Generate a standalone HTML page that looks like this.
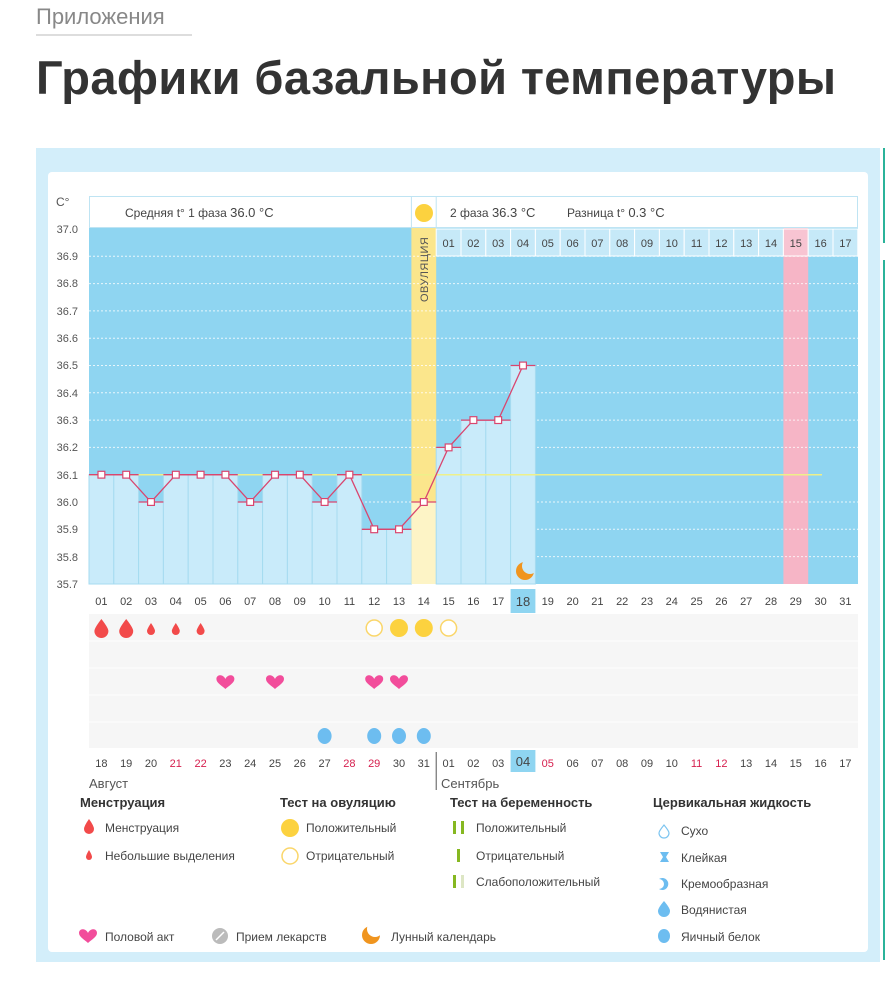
<!DOCTYPE html>
<html><head><meta charset="utf-8">
<style>
body{margin:0;width:885px;height:1000px;background:#fff;font-family:"Liberation Sans","DejaVu Sans",sans-serif;overflow:hidden;position:relative}
.crumb{position:absolute;left:36px;top:4px;font-size:22px;color:#888;border-bottom:2px solid #ddd;padding-bottom:4px;width:156px}
h1{position:absolute;left:36px;top:50px;margin:0;font-size:47px;font-weight:bold;color:#333;letter-spacing:0.4px;white-space:nowrap}
svg{position:absolute;left:0;top:0}
</style></head><body>
<div class="crumb">Приложения</div>
<h1>Графики базальной температуры</h1>
<svg width="885" height="1000" font-family="Liberation Sans, DejaVu Sans, sans-serif">
<defs>
<mask id="moon"><rect x="0" y="0" width="885" height="1000" fill="#fff"/><circle cx="530" cy="566" r="8" fill="#000"/><circle cx="375" cy="929" r="8" fill="#000"/></mask>
<path id="heart" d="M0 4 C-2 -1 -9 -1 -9 4 C-9 8 -3 11 0 14 C3 11 9 8 9 4 C9 -1 2 -1 0 4z"/>
</defs>
<rect x="36" y="148" width="844" height="814" fill="#d3eefa"/>
<rect x="883" y="148" width="2" height="95" fill="#2bb39a"/>
<rect x="883" y="260" width="2" height="700" fill="#2bb39a"/>
<rect x="48" y="172" width="820" height="780" rx="4" fill="#fff"/>
<text x="56" y="206" font-size="12" fill="#555">C°</text>
<rect x="89.5" y="196.5" width="768" height="31" fill="#fff" stroke="#bfe4f3"/>
<line x1="411.4" y1="196" x2="411.4" y2="228" stroke="#bfe4f3"/>
<line x1="436.2" y1="196" x2="436.2" y2="228" stroke="#bfe4f3"/>
<circle cx="424" cy="213" r="9" fill="#fcd23f"/>
<text x="125" y="217" font-size="12" fill="#444">Средняя t° 1 фаза <tspan font-size="13">36.0 °C</tspan></text>
<text x="450" y="217" font-size="12" fill="#444">2 фаза <tspan font-size="13">36.3 °C</tspan></text>
<text x="567" y="217" font-size="12" fill="#444">Разница t° <tspan font-size="13">0.3 °C</tspan></text>
<rect x="89" y="228" width="769" height="356" fill="#8fd5f1"/>
<rect x="411.4" y="228" width="24.8" height="356" fill="#fbe68c"/>
<rect x="783.4" y="228" width="24.8" height="356" fill="#f6b5c6"/>
<g stroke="#fff" stroke-dasharray="2 2" opacity="0.8">
<line x1="89" y1="256.3" x2="858" y2="256.3"/><line x1="89" y1="283.6" x2="858" y2="283.6"/><line x1="89" y1="310.9" x2="858" y2="310.9"/><line x1="89" y1="338.2" x2="858" y2="338.2"/><line x1="89" y1="365.5" x2="858" y2="365.5"/><line x1="89" y1="392.8" x2="858" y2="392.8"/><line x1="89" y1="420.1" x2="858" y2="420.1"/><line x1="89" y1="447.4" x2="858" y2="447.4"/><line x1="89" y1="502" x2="858" y2="502"/><line x1="89" y1="529.3" x2="858" y2="529.3"/><line x1="89" y1="556.6" x2="858" y2="556.6"/>
</g>
<g fill="#c6e9f8" stroke="#fff">
<rect x="436.2" y="229" width="24.8" height="27"/><rect x="461" y="229" width="24.8" height="27"/><rect x="485.8" y="229" width="24.8" height="27"/><rect x="510.6" y="229" width="24.8" height="27"/><rect x="535.4" y="229" width="24.8" height="27"/><rect x="560.2" y="229" width="24.8" height="27"/><rect x="585" y="229" width="24.8" height="27"/><rect x="609.8" y="229" width="24.8" height="27"/><rect x="634.6" y="229" width="24.8" height="27"/><rect x="659.4" y="229" width="24.8" height="27"/><rect x="684.2" y="229" width="24.8" height="27"/><rect x="709" y="229" width="24.8" height="27"/><rect x="733.8" y="229" width="24.8" height="27"/><rect x="758.6" y="229" width="24.8" height="27"/><rect x="783.4" y="229" width="24.8" height="27" fill="#f8c4d2"/><rect x="808.2" y="229" width="24.8" height="27"/><rect x="833" y="229" width="24.8" height="27"/>
</g>
<g font-size="11" fill="#444" text-anchor="middle">
<text x="448.6" y="247">01</text><text x="473.4" y="247">02</text><text x="498.2" y="247">03</text><text x="523" y="247">04</text><text x="547.8" y="247">05</text><text x="572.6" y="247">06</text><text x="597.4" y="247">07</text><text x="622.2" y="247">08</text><text x="647" y="247">09</text><text x="671.8" y="247">10</text><text x="696.6" y="247">11</text><text x="721.4" y="247">12</text><text x="746.2" y="247">13</text><text x="771" y="247">14</text><text x="795.8" y="247">15</text><text x="820.6" y="247">16</text><text x="845.4" y="247">17</text>
</g>
<text transform="translate(428,302) rotate(-90)" font-size="11" fill="#555" letter-spacing="0.5">ОВУЛЯЦИЯ</text>
<g fill="#c9ebfa" stroke="#a6dbf0">
<rect x="89" y="474.7" width="24.8" height="109.3"/><rect x="113.8" y="474.7" width="24.8" height="109.3"/><rect x="138.6" y="502" width="24.8" height="82"/><rect x="163.4" y="474.7" width="24.8" height="109.3"/><rect x="188.2" y="474.7" width="24.8" height="109.3"/><rect x="213" y="474.7" width="24.8" height="109.3"/><rect x="237.8" y="502" width="24.8" height="82"/><rect x="262.6" y="474.7" width="24.8" height="109.3"/><rect x="287.4" y="474.7" width="24.8" height="109.3"/><rect x="312.2" y="502" width="24.8" height="82"/><rect x="337" y="474.7" width="24.8" height="109.3"/><rect x="361.8" y="529.3" width="24.8" height="54.7"/><rect x="386.6" y="529.3" width="24.8" height="54.7"/><rect x="411.4" y="502" width="24.8" height="82" fill="#fdf4c6" stroke="none"/><rect x="436.2" y="447.4" width="24.8" height="136.6"/><rect x="461" y="420.1" width="24.8" height="163.9"/><rect x="485.8" y="420.1" width="24.8" height="163.9"/><rect x="510.6" y="365.5" width="24.8" height="218.5"/>
</g>
<line x1="89" y1="474.7" x2="822" y2="474.7" stroke="#eef08a" stroke-width="1.5"/>
<circle cx="525" cy="571" r="9" fill="#f0951f" mask="url(#moon)"/>
<g font-size="11" fill="#555" text-anchor="end">
<text x="78" y="233">37.0</text><text x="78" y="260">36.9</text><text x="78" y="287">36.8</text><text x="78" y="315">36.7</text><text x="78" y="342">36.6</text><text x="78" y="369">36.5</text><text x="78" y="397">36.4</text><text x="78" y="424">36.3</text><text x="78" y="451">36.2</text><text x="78" y="479">36.1</text><text x="78" y="506">36.0</text><text x="78" y="533">35.9</text><text x="78" y="561">35.8</text><text x="78" y="588">35.7</text>
</g>
<g stroke="#d9466f" stroke-width="1.3" fill="none">
<polyline points="101.4,474.7 126.2,474.7 151,502 175.8,474.7 200.6,474.7 225.4,474.7 250.2,502 275,474.7 299.8,474.7 324.6,502 349.4,474.7 374.2,529.3 399,529.3 423.8,502 448.6,447.4 473.4,420.1 498.2,420.1 523,365.5"/>
<path d="M89 474.7h49.6M138.6 502h24.8M163.4 474.7h74.4M237.8 502h24.8M262.6 474.7h49.6M312.2 502h24.8M337 474.7h24.8M361.8 529.3h49.6M411.4 502h24.8M436.2 447.4h24.8M461 420.1h49.6M510.6 365.5h24.8"/>
</g>
<g fill="#fff" stroke="#d9466f" stroke-width="1.2">
<rect x="98" y="471.3" width="6.8" height="6.8"/><rect x="122.8" y="471.3" width="6.8" height="6.8"/><rect x="147.6" y="498.6" width="6.8" height="6.8"/><rect x="172.4" y="471.3" width="6.8" height="6.8"/><rect x="197.2" y="471.3" width="6.8" height="6.8"/><rect x="222" y="471.3" width="6.8" height="6.8"/><rect x="246.8" y="498.6" width="6.8" height="6.8"/><rect x="271.6" y="471.3" width="6.8" height="6.8"/><rect x="296.4" y="471.3" width="6.8" height="6.8"/><rect x="321.2" y="498.6" width="6.8" height="6.8"/><rect x="346" y="471.3" width="6.8" height="6.8"/><rect x="370.8" y="525.9" width="6.8" height="6.8"/><rect x="395.6" y="525.9" width="6.8" height="6.8"/><rect x="420.4" y="498.6" width="6.8" height="6.8"/><rect x="445.2" y="444" width="6.8" height="6.8"/><rect x="470" y="416.7" width="6.8" height="6.8"/><rect x="494.8" y="416.7" width="6.8" height="6.8"/><rect x="519.6" y="362.1" width="6.8" height="6.8"/>
</g>
<rect x="89" y="614" width="769" height="134" fill="#f6f6f6"/>
<g stroke="#fff" stroke-width="1">
<line x1="89" y1="641" x2="858" y2="641"/><line x1="89" y1="668" x2="858" y2="668"/><line x1="89" y1="695" x2="858" y2="695"/><line x1="89" y1="722" x2="858" y2="722"/>
</g>
<rect x="510.6" y="589" width="24.8" height="24" fill="#8fd5f1"/>
<g font-size="11" fill="#444" text-anchor="middle">
<text x="101.4" y="605">01</text><text x="126.2" y="605">02</text><text x="151" y="605">03</text><text x="175.8" y="605">04</text><text x="200.6" y="605">05</text><text x="225.4" y="605">06</text><text x="250.2" y="605">07</text><text x="275" y="605">08</text><text x="299.8" y="605">09</text><text x="324.6" y="605">10</text><text x="349.4" y="605">11</text><text x="374.2" y="605">12</text><text x="399" y="605">13</text><text x="423.8" y="605">14</text><text x="448.6" y="605">15</text><text x="473.4" y="605">16</text><text x="498.2" y="605">17</text><text x="523" y="606" font-size="13">18</text><text x="547.8" y="605">19</text><text x="572.6" y="605">20</text><text x="597.4" y="605">21</text><text x="622.2" y="605">22</text><text x="647" y="605">23</text><text x="671.8" y="605">24</text><text x="696.6" y="605">25</text><text x="721.4" y="605">26</text><text x="746.2" y="605">27</text><text x="771" y="605">28</text><text x="795.8" y="605">29</text><text x="820.6" y="605">30</text><text x="845.4" y="605">31</text>
</g>
<g fill="#f24a4a">
<path d="M101.4 619 q-7 9 -7 12 a7 7 0 0 0 14 0 q0 -3 -7 -12z"/>
<path d="M126.2 619 q-7 9 -7 12 a7 7 0 0 0 14 0 q0 -3 -7 -12z"/>
<path d="M151 623 q-4 6 -4 8 a4 4 0 0 0 8 0 q0 -2 -4 -8z"/>
<path d="M175.8 623 q-4 6 -4 8 a4 4 0 0 0 8 0 q0 -2 -4 -8z"/>
<path d="M200.6 623 q-4 6 -4 8 a4 4 0 0 0 8 0 q0 -2 -4 -8z"/>
</g>
<circle cx="374.2" cy="628" r="8" fill="#fff" stroke="#fad66a" stroke-width="1.5"/>
<circle cx="399" cy="628" r="9" fill="#fcd23f"/>
<circle cx="423.8" cy="628" r="9" fill="#fcd23f"/>
<circle cx="448.6" cy="628" r="8" fill="#fff" stroke="#fad66a" stroke-width="1.5"/>
<g fill="#f24d9b">
<use href="#heart" x="225.4" y="675"/><use href="#heart" x="275" y="675"/><use href="#heart" x="374.2" y="675"/><use href="#heart" x="399" y="675"/>
</g>
<g fill="#6dbdf0">
<ellipse cx="324.6" cy="736" rx="7" ry="8"/><ellipse cx="374.2" cy="736" rx="7" ry="8"/><ellipse cx="399" cy="736" rx="7" ry="8"/><ellipse cx="423.8" cy="736" rx="7" ry="8"/>
</g>
<rect x="510.6" y="750" width="24.8" height="22" fill="#8fd5f1"/>
<line x1="436.2" y1="752" x2="436.2" y2="790" stroke="#555"/>
<g font-size="11" fill="#444" text-anchor="middle">
<text x="101.4" y="767">18</text><text x="126.2" y="767">19</text><text x="151" y="767">20</text><text x="175.8" y="767" fill="#d6204f">21</text><text x="200.6" y="767" fill="#d6204f">22</text><text x="225.4" y="767">23</text><text x="250.2" y="767">24</text><text x="275" y="767">25</text><text x="299.8" y="767">26</text><text x="324.6" y="767">27</text><text x="349.4" y="767" fill="#d6204f">28</text><text x="374.2" y="767" fill="#d6204f">29</text><text x="399" y="767">30</text><text x="423.8" y="767">31</text><text x="448.6" y="767">01</text><text x="473.4" y="767">02</text><text x="498.2" y="767">03</text><text x="523" y="766" font-size="13">04</text><text x="547.8" y="767" fill="#d6204f">05</text><text x="572.6" y="767">06</text><text x="597.4" y="767">07</text><text x="622.2" y="767">08</text><text x="647" y="767">09</text><text x="671.8" y="767">10</text><text x="696.6" y="767" fill="#d6204f">11</text><text x="721.4" y="767" fill="#d6204f">12</text><text x="746.2" y="767">13</text><text x="771" y="767">14</text><text x="795.8" y="767">15</text><text x="820.6" y="767">16</text><text x="845.4" y="767">17</text>
</g>
<text x="89" y="788" font-size="13" fill="#555">Август</text>
<text x="441" y="788" font-size="13" fill="#555">Сентябрь</text>
<g font-size="13" font-weight="bold" fill="#333">
<text x="80" y="807">Менструация</text><text x="280" y="807">Тест на овуляцию</text><text x="450" y="807">Тест на беременность</text><text x="653" y="807">Цервикальная жидкость</text>
</g>
<g font-size="12" fill="#444">
<text x="105" y="832">Менструация</text><text x="105" y="860">Небольшие выделения</text>
<text x="306" y="832">Положительный</text><text x="306" y="860">Отрицательный</text>
<text x="476" y="832">Положительный</text><text x="476" y="860">Отрицательный</text><text x="476" y="886">Слабоположительный</text>
<text x="681" y="835">Сухо</text><text x="681" y="862">Клейкая</text><text x="681" y="888">Кремообразная</text><text x="681" y="914">Водянистая</text><text x="681" y="941">Яичный белок</text>
<text x="105" y="941">Половой акт</text><text x="236" y="941">Прием лекарств</text><text x="391" y="941">Лунный календарь</text>
</g>
<path d="M89 819 q-5 7 -5 10 a5 5 0 0 0 10 0 q0 -3 -5 -10z" fill="#f24a4a"/>
<path d="M89 850 q-3 5 -3 7 a3 3 0 0 0 6 0 q0 -2 -3 -7z" fill="#f24a4a"/>
<circle cx="290" cy="828" r="9" fill="#fcd23f"/>
<circle cx="290" cy="856" r="8" fill="#fff" stroke="#fad66a" stroke-width="1.5"/>
<rect x="453" y="821" width="3" height="13" fill="#86b821"/><rect x="461" y="821" width="3" height="13" fill="#86b821"/>
<rect x="457" y="849" width="3" height="13" fill="#86b821"/>
<rect x="453" y="875" width="3" height="13" fill="#86b821"/><rect x="461" y="875" width="3" height="13" fill="#dde6c4"/>
<path d="M664 825 q-5 6 -5 8 a5 5 0 0 0 10 0 q0 -2 -5 -8z" fill="#fff" stroke="#7cc4f0" stroke-width="1.2"/>
<path d="M660 852 h9 l-3 5 l3 5 h-9 l3 -5z" fill="#6dbdf0"/>
<path d="M659 879 a6 6 0 1 1 0 10 a4 4 0 0 0 0 -10z" fill="#6dbdf0"/>
<path d="M664 901 q-6 7 -6 10 a6 6 0 0 0 12 0 q0 -3 -6 -10z" fill="#6dbdf0"/>
<ellipse cx="664" cy="936" rx="6" ry="7" fill="#6dbdf0"/>
<use href="#heart" x="88" y="929" fill="#f24d9b"/>
<circle cx="220" cy="936" r="8" fill="#bbb"/><line x1="216" y1="940" x2="224" y2="932" stroke="#fff" stroke-width="1.5"/>
<circle cx="371" cy="935" r="9" fill="#f0951f" mask="url(#moon)"/>
</svg>
</body></html>
